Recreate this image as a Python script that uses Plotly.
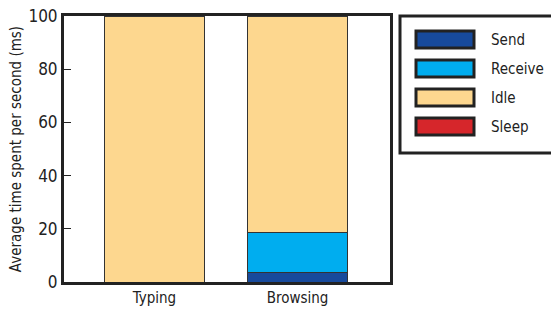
import plotly.graph_objects as go

categories = ["Typing", "Browsing"]
series_names = ["Send", "Receive", "Idle", "Sleep"]
send = [0.0, 3.7]
receive = [0.0, 15.0]
idle = [100.0, 81.3]
sleep = [0.0, 0.0]
colors = ["#174a9c", "#00adef", "#fdd78f", "#d6262b"]

values = [send, receive, idle, sleep]
FONT = "DejaVu Sans Condensed, Liberation Sans Narrow, sans-serif"

fig = go.Figure()
for name, vals, col in zip(series_names, values, colors):
    fig.add_trace(go.Bar(x=categories, y=vals, name=name, marker=dict(color=col, line=dict(color="#333333", width=1)),
                         width=0.706, showlegend=False))

W, H = 551, 311
L, R, T, B = 64, 161, 16, 29
pw, ph = W - L - R, H - T - B

def px(x):  # page pixel -> paper
    return (x - L) / pw

def py(y):
    return (H - B - y) / ph

shapes = [dict(type="rect", xref="paper", yref="paper", x0=px(400), x1=px(620), y0=py(153), y1=py(16),
               line=dict(color="#222222", width=3), fillcolor="white")]
annotations = []
sw_y = [31, 60, 89, 118]
for name, col, y0 in zip(series_names, colors, sw_y):
    shapes.append(dict(type="rect", xref="paper", yref="paper", x0=px(416), x1=px(474), y0=py(y0 + 17), y1=py(y0),
                       line=dict(color="#222222", width=3), fillcolor=col))
    annotations.append(dict(xref="paper", yref="paper", x=px(489), y=py(y0 + 9), text=name, showarrow=False,
                            xanchor="left", yanchor="middle", font=dict(size=15, color="#222222", family=FONT)))

fig.update_layout(
    barmode="stack",
    width=W, height=H,
    margin=dict(l=L, r=R, t=T, b=B, autoexpand=False),
    paper_bgcolor="white", plot_bgcolor="white",
    font=dict(family=FONT, color="#222222"),
    shapes=shapes, annotations=annotations,
    xaxis=dict(showline=True, linewidth=3, linecolor="#222222", mirror=True, ticks="", automargin=False,
               range=[-0.633, 1.647], tickfont=dict(size=15), showgrid=False),
    yaxis=dict(range=[0, 100], tickvals=[0, 20, 40, 60, 80, 100], showline=True, linewidth=3, linecolor="#222222",
               mirror=True, ticks="inside", ticklen=7, tickwidth=1, tickcolor="#222222", showgrid=False,
               zeroline=False, tickfont=dict(size=17), automargin=False, ticklabeloverflow="allow",
               title=dict(text="Average time spent per second (ms)", font=dict(size=15), standoff=4)),
)

fig.write_html("out.html", config={"displayModeBar": False}, post_script="document.body.style.margin='0';")
